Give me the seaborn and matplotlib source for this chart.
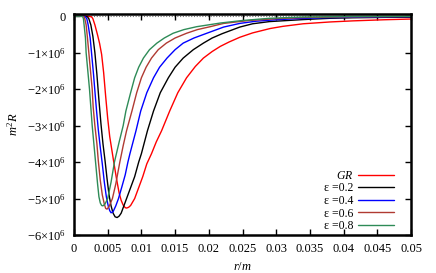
import numpy as np
import seaborn as sns
import matplotlib
matplotlib.use("Agg")
import matplotlib.pyplot as plt
import pandas as pd
from matplotlib.ticker import FuncFormatter, MultipleLocator

# values: r in m, m^2 R in units of 1e6
r_gr = [0, 0.0020, 0.0026, 0.0028, 0.0031, 0.0035, 0.0038, 0.0041, 0.0044, 0.0047, 0.0050,
        0.0053, 0.0056, 0.0059, 0.0063, 0.0067, 0.0070, 0.0073, 0.0076, 0.0078, 0.0081,
        0.0084, 0.0090, 0.0096, 0.0102, 0.0108, 0.0115, 0.0122, 0.0130, 0.0142, 0.0154,
        0.0167, 0.0180, 0.0192, 0.0205, 0.0217, 0.0230, 0.0246, 0.0265, 0.0291, 0.0310,
        0.0340, 0.0380, 0.0414, 0.0460, 0.0500]
v_gr = [0, 0, -0.02, -0.07, -0.24, -0.52, -0.75, -1.05, -1.55, -2.2, -2.8,
        -3.3, -3.65, -4.0, -4.45, -4.85, -5.05, -5.18, -5.25, -5.26, -5.24,
        -5.19, -5.0, -4.7, -4.4, -4.05, -3.77, -3.45, -3.14, -2.6, -2.1,
        -1.69, -1.38, -1.15, -0.97, -0.83, -0.71, -0.58, -0.46, -0.34, -0.28,
        -0.21, -0.16, -0.13, -0.1, -0.08]

r_e2 = [0, 0.0016, 0.0020, 0.0022, 0.0025, 0.0028, 0.0031, 0.0034, 0.0037, 0.0040,
        0.0043, 0.0046, 0.0049, 0.0052, 0.0055, 0.0058, 0.0061, 0.0064, 0.0067,
        0.0070, 0.0076, 0.0083, 0.0090, 0.0096, 0.0100, 0.0109, 0.0118, 0.0128,
        0.0140, 0.0150, 0.0162, 0.0177, 0.0192, 0.0205, 0.0220, 0.0246, 0.0265,
        0.0290, 0.0340, 0.0380, 0.0414, 0.0460, 0.0500]
v_e2 = [0, 0, -0.02, -0.07, -0.24, -0.55, -1.0, -1.6, -2.3, -2.95,
        -3.5, -3.95, -4.45, -4.9, -5.2, -5.4, -5.5, -5.52, -5.48,
        -5.4, -5.1, -4.75, -4.4, -4.0, -3.77, -3.14, -2.6, -2.1,
        -1.69, -1.4, -1.15, -0.92, -0.74, -0.6, -0.48, -0.3, -0.21,
        -0.15, -0.095, -0.06, -0.045, -0.035, -0.03]

r_e4 = [0, 0.0014, 0.0017, 0.0019, 0.0021, 0.0024, 0.0026, 0.0029, 0.0031, 0.00335,
        0.0036, 0.0039, 0.0042, 0.0045, 0.0048, 0.0051, 0.0053, 0.0055, 0.0058,
        0.0062, 0.0066, 0.0071, 0.0076, 0.0080, 0.0083, 0.0092, 0.0099, 0.0108,
        0.0118, 0.0127, 0.0138, 0.0150, 0.0162, 0.0178, 0.0197, 0.0222, 0.0246,
        0.0270, 0.0300, 0.0330, 0.0370, 0.0420, 0.0460, 0.0500]
v_e4 = [0, 0, -0.02, -0.07, -0.24, -0.6, -1.0, -1.6, -2.05, -2.6,
        -3.1, -3.6, -4.05, -4.55, -4.95, -5.22, -5.33, -5.39, -5.36,
        -5.2, -5.0, -4.68, -4.35, -4.0, -3.77, -3.14, -2.6, -2.1,
        -1.69, -1.4, -1.15, -0.92, -0.74, -0.6, -0.47, -0.3, -0.2,
        -0.14, -0.1, -0.07, -0.045, -0.03, -0.02, -0.015]

r_e6 = [0, 0.0012, 0.0015, 0.0016, 0.0018, 0.0020, 0.0022, 0.0025, 0.0027, 0.00285,
        0.0031, 0.0034, 0.0036, 0.0039, 0.0042, 0.0045, 0.0047, 0.0049, 0.0052,
        0.0057, 0.0062, 0.0068, 0.0073, 0.0078, 0.0086, 0.0093, 0.0100, 0.0107,
        0.0115, 0.0125, 0.0137, 0.0150, 0.0167, 0.0183, 0.0202, 0.0222, 0.0260,
        0.0300, 0.0340, 0.0400, 0.0450, 0.0500]
v_e6 = [0, 0, -0.02, -0.07, -0.24, -0.6, -1.0, -1.6, -2.0, -2.5,
        -3.0, -3.5, -3.95, -4.5, -4.9, -5.15, -5.27, -5.29, -5.22,
        -5.0, -4.6, -4.0, -3.55, -3.14, -2.6, -2.1, -1.69, -1.4,
        -1.15, -0.92, -0.74, -0.6, -0.47, -0.37, -0.29, -0.2, -0.12,
        -0.07, -0.04, -0.02, -0.014, -0.01]

r_e8 = [0, 0.0010, 0.0013, 0.0014, 0.0015, 0.0017, 0.0018, 0.0021, 0.0023, 0.0025,
        0.0027, 0.0030, 0.0032, 0.0035, 0.0037, 0.0039, 0.0041, 0.0043, 0.0046,
        0.0050, 0.0055, 0.0060, 0.0067, 0.0073, 0.0077, 0.0084, 0.0090, 0.0096,
        0.0103, 0.0112, 0.0123, 0.0134, 0.0147, 0.0163, 0.0182, 0.0217, 0.0250,
        0.0290, 0.0340, 0.0400, 0.0450, 0.0500]
v_e8 = [0, 0, -0.02, -0.07, -0.24, -0.6, -1.0, -1.6, -2.0, -2.5,
        -3.0, -3.6, -4.0, -4.6, -4.95, -5.12, -5.19, -5.2, -5.15,
        -5.0, -4.55, -4.0, -3.45, -3.0, -2.6, -2.1, -1.69, -1.4,
        -1.15, -0.92, -0.74, -0.6, -0.47, -0.37, -0.29, -0.19, -0.12,
        -0.06, -0.025, -0.012, -0.008, -0.005]

labels = [r"$GR$", "ε =0.2", "ε =0.4", "ε =0.6", "ε =0.8"]
colors = ["#ff0000", "#000000", "#0000ff", "#b03a32", "#2e8b57"]

frames = []
for lab, rr, vv in zip(labels, [r_gr, r_e2, r_e4, r_e6, r_e8], [v_gr, v_e2, v_e4, v_e6, v_e8]):
    frames.append(pd.DataFrame({"r": rr, "R": np.array(vv) * 1e6, "model": lab}))
df = pd.concat(frames, ignore_index=True)

sns.set_style("ticks")
plt.rcParams["font.family"] = ["Liberation Serif", "DejaVu Serif"]
plt.rcParams["mathtext.fontset"] = "custom"
plt.rcParams["mathtext.rm"] = "Liberation Serif"
plt.rcParams["mathtext.it"] = "Liberation Serif:italic"
for k in ["text.color", "axes.labelcolor", "xtick.color", "ytick.color", "axes.edgecolor"]:
    plt.rcParams[k] = "black"

fig = plt.figure(figsize=(4.36, 2.73), dpi=100)
ax = fig.add_axes([0.1697, 0.139, 0.773, 0.81])

sns.lineplot(data=df, x="r", y="R", hue="model", palette=colors, sort=False,
             linewidth=1.0, ax=ax, estimator=None)
ax.axhline(0, color="#777777", linestyle=(0, (1, 1.5)), linewidth=0.8, zorder=0)

ax.set_xlim(0, 0.05)
ax.set_ylim(-6e6, 0.06e6)
ax.xaxis.set_major_locator(MultipleLocator(0.005))
ax.yaxis.set_major_locator(MultipleLocator(1e6))


def xfmt(v, pos):
    if abs(v) < 1e-12:
        return "0"
    return ("%.3f" % v).rstrip("0")


def yfmt(v, pos):
    n = int(round(v / 1e6))
    if n == 0:
        return "0"
    return r"$\mathrm{-%d{\times}10^{6}}$" % abs(n)


ax.xaxis.set_major_formatter(FuncFormatter(xfmt))
ax.yaxis.set_major_formatter(FuncFormatter(yfmt))
ax.tick_params(direction="in", top=True, right=True, length=4, width=1, labelsize=9, pad=6,
               colors="black")
for s in ax.spines.values():
    s.set_linewidth(1.8)
    s.set_color("black")

ax.set_xlabel(r"$r/m$", fontsize=9, labelpad=4)
ax.set_ylabel(r"$m^2R$", fontsize=9, labelpad=4)

ax.legend(loc="lower right", bbox_to_anchor=(0.958, 0.0), frameon=False, markerfirst=False,
          fontsize=8.5, handlelength=3.0, labelspacing=0.05, handletextpad=0.45,
          borderaxespad=0.0, borderpad=0.25)

fig.savefig("out.png", dpi=100)
